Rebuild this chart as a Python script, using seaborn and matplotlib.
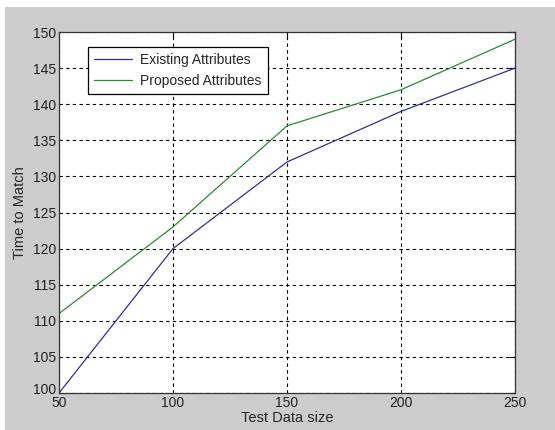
import numpy as np
import pandas as pd
import matplotlib
matplotlib.use("Agg")
import matplotlib.pyplot as plt
import matplotlib.transforms as mtransforms
import seaborn as sns
from matplotlib.patches import Rectangle

# ===== data =====
test_size = [50, 100, 150, 200, 250]
existing = [100, 120, 132, 139, 145]
proposed = [111, 123, 137, 142, 149]
series_names = ["Existing Attributes", "Proposed Attributes"]

df = pd.DataFrame({
    "Test Data size": test_size * 2,
    "Time to Match": existing + proposed,
    "series": [series_names[0]] * len(test_size) + [series_names[1]] * len(test_size),
})

sns.set_style("white")
plt.rcParams['font.family'] = ['Liberation Sans', 'DejaVu Sans']

fig = plt.figure(figsize=(5.55, 4.3), dpi=100, facecolor="white")
# MATLAB-like gray figure background (white strip at top/left like the screenshot)
fig.patches.append(Rectangle((5 / 555, 0), 1, 1 - 7 / 430, transform=fig.transFigure,
                             facecolor="#cccccc", edgecolor="none", zorder=-10))
ax = fig.add_axes([59 / 555, 1 - 393 / 430, (515 - 59) / 555, (393 - 32) / 430])
ax.set_facecolor("white")

palette = {series_names[0]: "#30309a", series_names[1]: "#2e8a2e"}
sns.lineplot(data=df, x="Test Data size", y="Time to Match", hue="series",
             palette=palette, linewidth=0.9, ax=ax)

ax.set_xlim(50, 250)
ax.set_ylim(100, 150)
ax.set_xticks(test_size)
ax.set_yticks(np.arange(100, 151, 5))
ax.grid(True, color="black", linestyle=(0, (3, 3)), linewidth=0.8)
ax.tick_params(direction="in", length=4, top=True, right=True, labelsize=10,
               labelcolor="#222222", color="black", pad=2)
for s in ax.spines.values():
    s.set_color("#333333")
    s.set_linewidth(0.9)

# nudge the bottom y label up a bit so it doesn't collide with the "50"
lbl = ax.get_yticklabels()[0]
lbl.set_transform(lbl.get_transform() + mtransforms.ScaledTranslation(0, 3 / 72, fig.dpi_scale_trans))

ax.set_xlabel("Test Data size", fontsize=10.5, labelpad=1)
ax.set_ylabel("Time to Match", fontsize=10.5, labelpad=4)

leg = ax.legend(loc="upper left", bbox_to_anchor=((88 - 59) / 456, 1 - (47 - 32) / 361),
                borderaxespad=0, fontsize=10,
                frameon=True, fancybox=False, edgecolor="black", framealpha=1,
                handlelength=2.75, borderpad=0.45, labelspacing=0.45, handletextpad=0.55)
leg.get_frame().set_linewidth(0.9)

fig.savefig("out.png", dpi=100, facecolor=fig.get_facecolor())
